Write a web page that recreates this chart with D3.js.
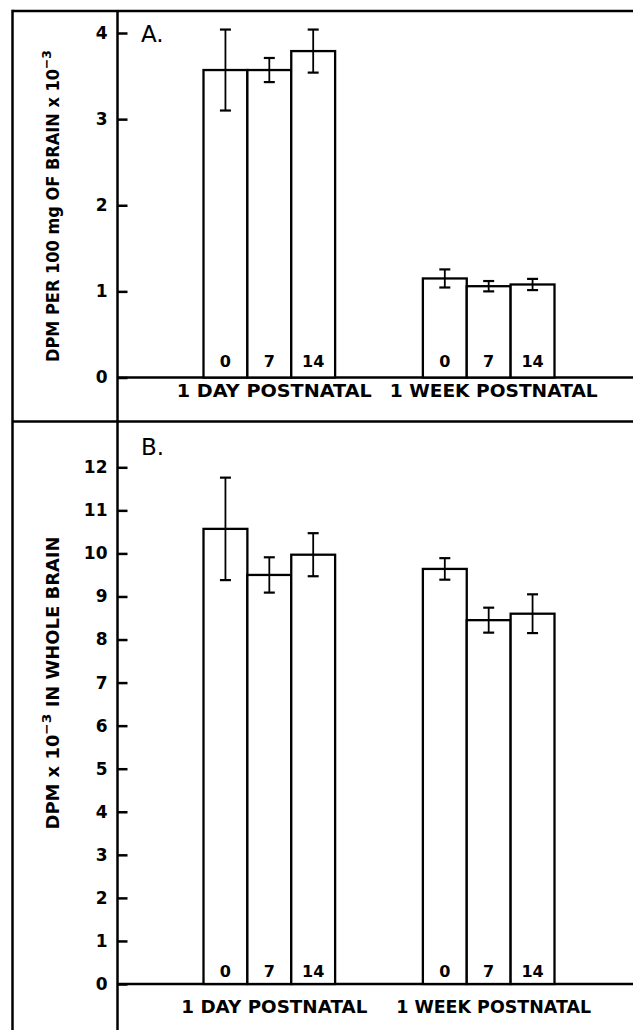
<!DOCTYPE html>
<html>
<head>
<meta charset="utf-8">
<script src="https://cdn.jsdelivr.net/npm/d3@7"></script>
<style>
body { margin: 0; background: #fff; }
text { font-family: "DejaVu Sans", sans-serif; fill: #000; }
</style>
</head>
<body>
<div id="chartDiv"></div>
<script>
// groups on the x axis and the day labels printed inside the bars
var groups = ["1 DAY POSTNATAL", "1 WEEK POSTNATAL"];
var days = ["0", "7", "14"];

// panel A: DPM per 100 mg of brain (x10^-3), mean and +/- error
var per100mg = [[3.57, 3.57, 3.79], [1.15, 1.06, 1.08]];
var per100mgErr = [[0.47, 0.14, 0.25], [0.105, 0.06, 0.065]];
var ticksA = [0, 1, 2, 3, 4];

// panel B: DPM in whole brain (x10^-3)
var wholeBrain = [[10.57, 9.50, 9.97], [9.64, 8.45, 8.60]];
var wholeBrainErr = [[1.19, 0.41, 0.50], [0.25, 0.29, 0.45]];
var ticksB = [0, 1, 2, 3, 4, 5, 6, 7, 8, 9, 10, 11, 12];

var width = 633, height = 1030;
var frameLeft = 12.5, frameTop = 11, divider = 421.5, axisX = 117.5;

var svg = d3.select("#chartDiv")
    .append("svg")
    .attr("width", width)
    .attr("height", height);

// x: one band per group, three touching bars inside
var x0 = d3.scaleBand()
    .domain(groups)
    .range([203.5, 554.5])
    .paddingInner(0.4);
var x1 = d3.scaleBand()
    .domain(days)
    .range([0, x0.bandwidth()]);

var panels = [
    {letter: "A.", values: per100mg, err: per100mgErr, ticks: ticksA,
     y: d3.scaleLinear().domain([0, 4]).range([377.5, 33]),
     letterY: 42, dayY: 366.5, groupY: 397, groupLen: [195, 208], titleY: 206, titleLen: 312,
     title: ["DPM PER 100 mg OF BRAIN x 10", "\u22123", ""]},
    {letter: "B.", values: wholeBrain, err: wholeBrainErr, ticks: ticksB,
     y: d3.scaleLinear().domain([0, 12]).range([984, 467.3]),
     letterY: 455, dayY: 976.5, groupY: 1013, groupLen: [186, 195], titleY: 683, titleLen: 293,
     title: ["DPM x 10", "\u22123", " IN WHOLE BRAIN"]}
];

// outer frame, panel divider and the shared y axis line
var frame = svg.append("g")
    .attr("stroke", "#000")
    .attr("stroke-width", 2.5);
frame.append("line").attr("x1", frameLeft).attr("x2", frameLeft).attr("y1", frameTop - 1.2).attr("y2", height);
frame.append("line").attr("x1", frameLeft).attr("x2", width).attr("y1", frameTop).attr("y2", frameTop);
frame.append("line").attr("x1", frameLeft).attr("x2", width).attr("y1", divider).attr("y2", divider);
frame.append("line").attr("x1", axisX).attr("x2", axisX).attr("y1", frameTop).attr("y2", height);

panels.forEach(function (p) {
    var g = svg.append("g");
    var y = p.y;

    // ticks point inward, labels on the left
    var axis = g.append("g")
        .attr("transform", "translate(" + axisX + ",0)")
        .call(d3.axisLeft(y)
            .tickValues(p.ticks)
            .tickFormat(d3.format("d"))
            .tickSizeInner(-10)
            .tickSizeOuter(0)
            .tickPadding(10));
    axis.select(".domain").remove();
    axis.selectAll(".tick line").attr("stroke", "#000").attr("stroke-width", 2.5);
    axis.selectAll(".tick text")
        .attr("font-size", 17)
        .attr("font-weight", "bold")
        .attr("font-family", "DejaVu Sans, sans-serif");

    // zero line runs out to the right edge
    g.append("line")
        .attr("x1", axisX).attr("x2", width)
        .attr("y1", y(0)).attr("y2", y(0))
        .attr("stroke", "#000").attr("stroke-width", 2.5);

    var grp = g.selectAll(".grp")
        .data(groups)
        .enter().append("g")
        .attr("class", "grp")
        .attr("transform", function (d) { return "translate(" + x0(d) + ",0)"; });

    grp.selectAll("rect")
        .data(function (d, i) {
            return days.map(function (day, j) {
                return {day: day, v: p.values[i][j], e: p.err[i][j]};
            });
        })
        .enter().append("rect")
        .attr("x", function (d) { return x1(d.day); })
        .attr("y", function (d) { return y(d.v); })
        .attr("width", x1.bandwidth())
        .attr("height", function (d) { return y(0) - y(d.v); })
        .attr("fill", "#fff")
        .attr("stroke", "#000")
        .attr("stroke-width", 2.3);

    // error bars
    var eb = grp.selectAll(".err")
        .data(function (d, i) {
            return days.map(function (day, j) {
                return {day: day, v: p.values[i][j], e: p.err[i][j]};
            });
        })
        .enter().append("g")
        .attr("class", "err")
        .attr("stroke", "#000");
    eb.append("line")
        .attr("x1", function (d) { return x1(d.day) + x1.bandwidth() / 2; })
        .attr("x2", function (d) { return x1(d.day) + x1.bandwidth() / 2; })
        .attr("y1", function (d) { return y(d.v + d.e); })
        .attr("y2", function (d) { return y(d.v - d.e); })
        .attr("stroke-width", 1.8);
    [1, -1].forEach(function (s) {
        eb.append("line")
            .attr("x1", function (d) { return x1(d.day) + x1.bandwidth() / 2 - 5.5; })
            .attr("x2", function (d) { return x1(d.day) + x1.bandwidth() / 2 + 5.5; })
            .attr("y1", function (d) { return y(d.v + s * d.e); })
            .attr("y2", function (d) { return y(d.v + s * d.e); })
            .attr("stroke-width", 2.2);
    });

    // day labels inside bars
    grp.selectAll(".day")
        .data(days)
        .enter().append("text")
        .attr("class", "day")
        .attr("x", function (d) { return x1(d) + x1.bandwidth() / 2; })
        .attr("y", p.dayY)
        .attr("text-anchor", "middle")
        .attr("font-size", 16)
        .attr("font-weight", "bold")
        .text(function (d) { return d; });

    // group labels under the axis
    grp.append("text")
        .attr("x", x0.bandwidth() / 2 + 5)
        .attr("y", p.groupY)
        .attr("text-anchor", "middle")
        .attr("font-size", 18)
        .attr("font-weight", "bold")
        .attr("textLength", function (d, i) { return p.groupLen[i]; })
        .attr("lengthAdjust", "spacingAndGlyphs")
        .text(function (d) { return d; });

    // panel letter
    g.append("text")
        .attr("x", 141)
        .attr("y", p.letterY)
        .attr("font-size", 23)
        .text(p.letter);

    // rotated y title with superscript
    var t = g.append("text")
        .attr("transform", "translate(59," + p.titleY + ") rotate(-90)")
        .attr("text-anchor", "middle")
        .attr("font-size", 17)
        .attr("font-weight", "bold")
        .attr("textLength", p.titleLen)
        .attr("lengthAdjust", "spacingAndGlyphs");
    t.append("tspan").text(p.title[0]);
    t.append("tspan").attr("font-size", 13).attr("dy", -8).text(p.title[1]);
    t.append("tspan").attr("dy", 8).text(p.title[2]);
});
</script>
</body>
</html>
